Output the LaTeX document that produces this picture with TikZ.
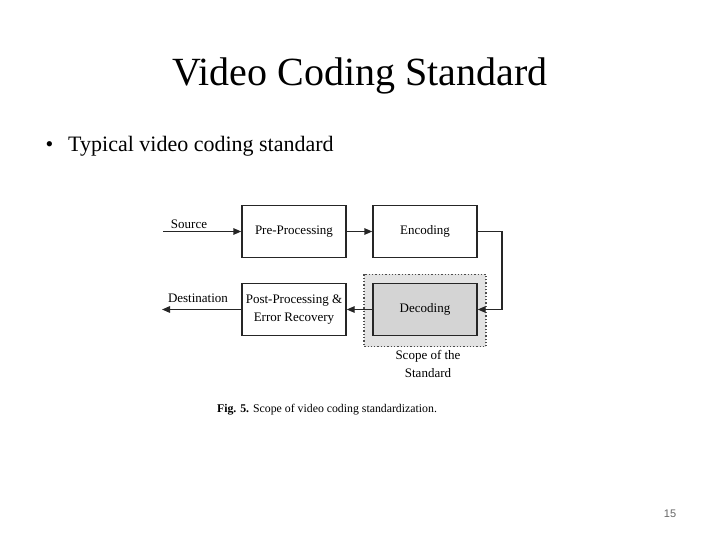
\documentclass[tikz,border=0pt]{standalone}
\usepackage{fontspec}
\setmainfont{Liberation Serif}
\newfontfamily\pagefont{Liberation Sans}
\usetikzlibrary{arrows.meta}
\begin{document}
\begin{tikzpicture}[x=1pt,y=-1pt,
  blk/.style={draw=black!85, line width=1.4pt, minimum width=104pt, minimum height=52pt, inner sep=0pt, align=center, font=\fontsize{13}{18}\selectfont},
  conn/.style={draw=black!85, line width=1.4pt, -{Triangle[length=8pt,width=6.5pt]}},
  lbl/.style={font=\fontsize{13}{14}\selectfont, inner sep=0pt}]
\useasboundingbox (0,0) rectangle (720,540);
\fill[white] (0,0) rectangle (720,540);
\node[font=\fontsize{40}{44}\selectfont] (title) at (360,76) {Video Coding Standard};
\node[font=\fontsize{22}{26}\selectfont, anchor=west] (bullet) at (42,146) {•\hspace{15pt}Typical video coding standard};
% scope area
\draw[dotted, line width=1.3pt, draw=black!70, fill=black!11] (364,274.3) rectangle (486,346.7);
\node[coordinate] (scopeS) at (428,350) {};
\node[blk] (pre) at (294,231.5) {\raisebox{-2pt}{Pre-Processing}};
\node[blk] (enc) at (425,231.5) {\raisebox{-2pt}{Encoding}};
\node[blk] (post) at (294,309.5) {Post-Processing \&\\Error Recovery};
\node[blk, fill=black!17] (dec) at (425,309.5) {\raisebox{-2pt}{Decoding}};
\coordinate (src) at (163,233);
\coordinate (dst) at (162,312);
\coordinate (rt) at (502,0);
\draw[conn] (pre.west -| src) -- (pre.west);
\draw[conn] (pre) -- (enc);
\draw[conn] (enc.east) -- (enc.east -| rt) -- (dec.east -| rt) -- (dec.east);
\draw[conn] (dec) -- (post);
\draw[conn] (post.west) -- (post.west -| dst);
\node[lbl] (srcl) at (189,224) {Source};
\node[lbl] (dstl) at (198,298) {Destination};
\node[lbl, align=center, anchor=north, font=\fontsize{13}{18}\selectfont] (scl) at (scopeS) {Scope of the\\Standard};
\node[font=\fontsize{11.8}{13}\selectfont] (cap) at (327,410) {\textbf{Fig. 5.} Scope of video coding standardization.};
\node[font=\pagefont\fontsize{11}{12}\selectfont, text=black!60] (pg) at (670,514) {15};
\end{tikzpicture}
\end{document}
